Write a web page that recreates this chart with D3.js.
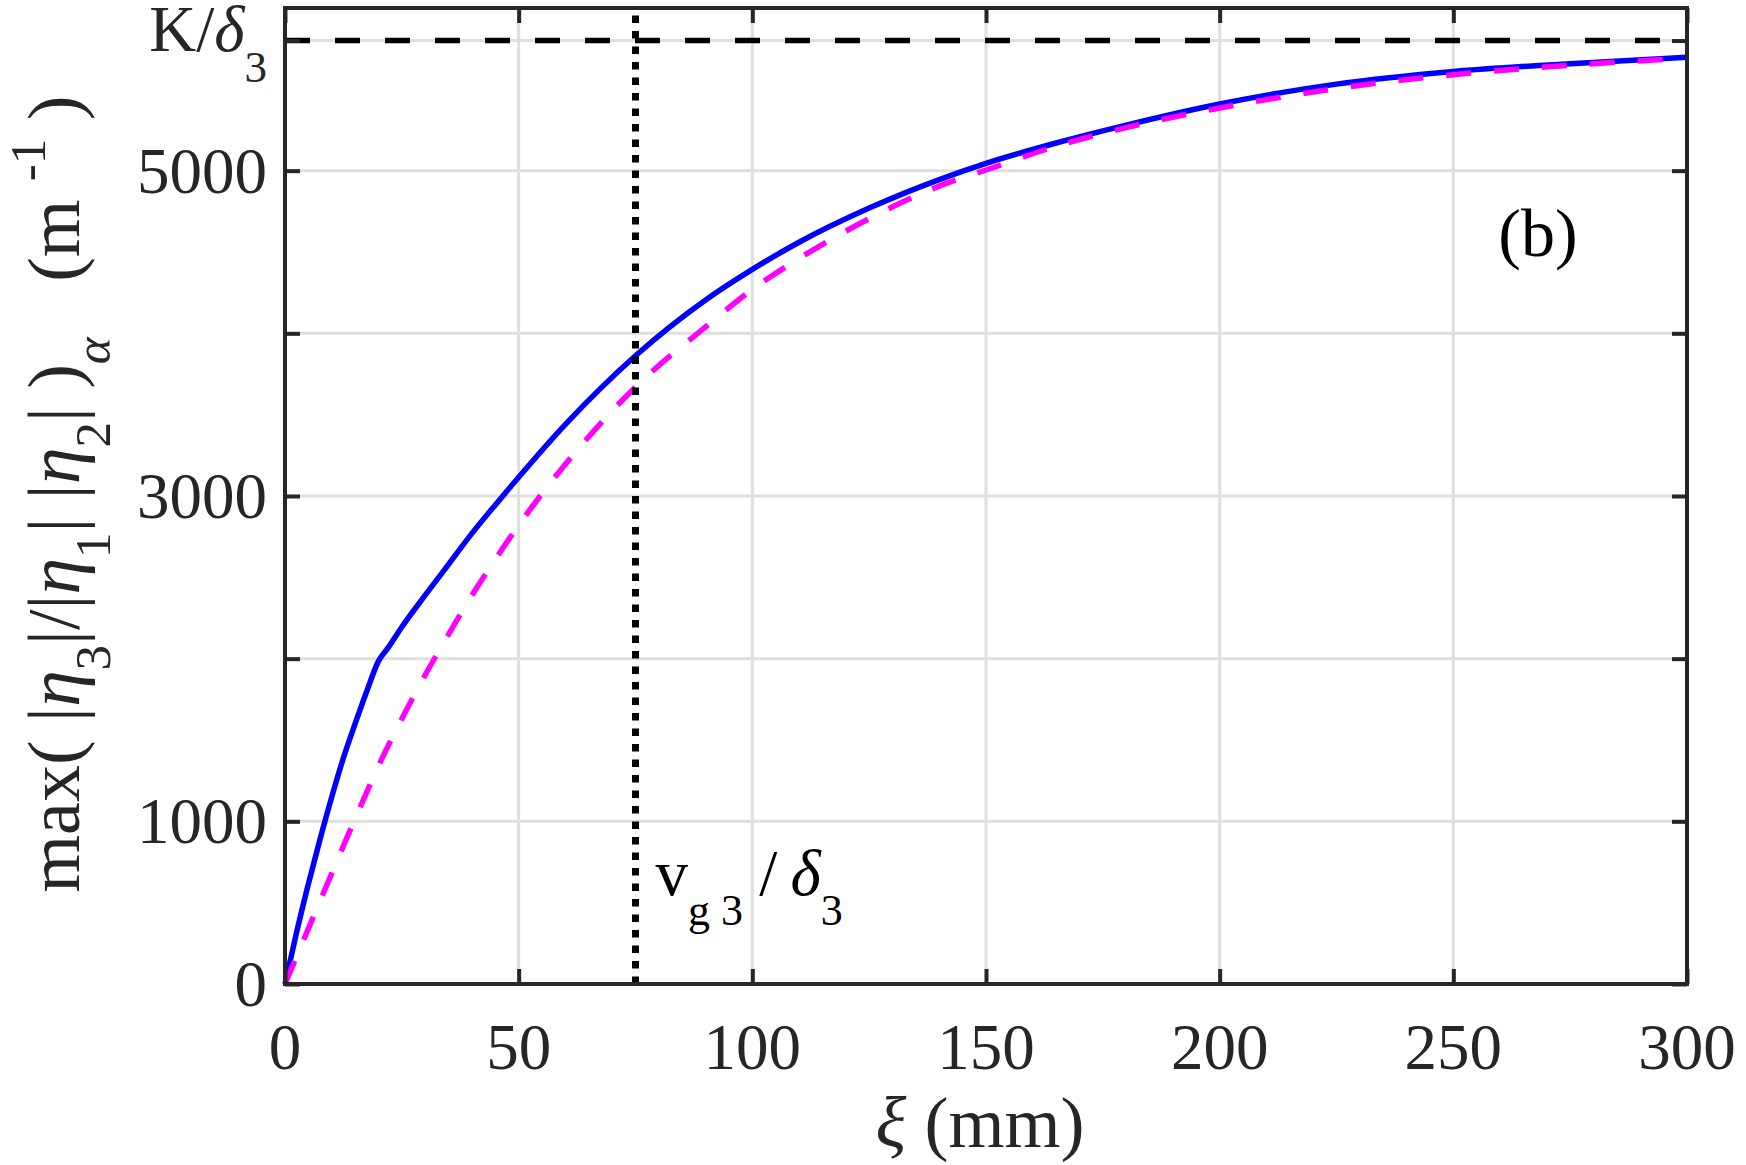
<!DOCTYPE html>
<html><head><meta charset="utf-8">
<script src="https://cdn.jsdelivr.net/npm/d3@7"></script>
<style>
body{margin:0;background:#fff}
svg{display:block}
text{font-family:"Liberation Serif","Times New Roman",serif;white-space:pre}
</style>
</head><body><svg id="c" width="1746" height="1165"></svg>
<script>
// ---- data ----
const xi = [0, 2.5, 5, 7.5, 10, 12.5, 15, 17.5, 20, 22, 25, 30, 35, 40, 45, 50, 60, 75, 90, 100, 110, 125, 140, 150, 165, 180, 200, 225, 250, 275, 300];
const blueVals = [0, 320, 615, 890, 1150, 1390, 1600, 1800, 1985, 2065, 2195, 2390, 2580, 2770, 2945, 3115, 3440, 3862, 4205, 4393, 4560, 4770, 4945, 5045, 5170, 5280, 5410, 5532, 5610, 5658, 5697];
const magentaVals = [0, 170, 340, 510, 680, 850, 1015, 1180, 1340, 1460, 1630, 1900, 2150, 2390, 2610, 2820, 3195, 3670, 4040, 4270, 4460, 4705, 4905, 5004, 5150, 5265, 5385, 5505, 5590, 5648, 5692];
const xTicks = [0, 50, 100, 150, 200, 250, 300];
const xTickLabels = ["0", "50", "100", "150", "200", "250", "300"];
const yTicks = [0, 1000, 2000, 3000, 4000, 5000, 5800];
const yTickLabels = ["0", "1000", "", "3000", "", "5000", "K/δ3"];
const kLevel = 5800;      // K/δ3
const vgLine = 75;        // v_g3/δ3

// ---- layout ----
const W = 1746, H = 1165;
const m = {left: 285, right: 59, top: 8, bottom: 181};
const pw = W - m.left - m.right, ph = H - m.top - m.bottom;
const axisCol = "#262626";

const svg = d3.select("#c");
const g = svg.append("g").attr("transform", `translate(${m.left},${m.top})`);

const x = d3.scaleLinear().domain([0, 300]).range([0, pw]);
const y = d3.scaleLinear().domain([0, 6000]).range([ph, 0]);

// grid
g.append("g").selectAll("line").data(xTicks.slice(1, -1)).join("line")
  .attr("x1", d => x(d)).attr("x2", d => x(d)).attr("y1", 0).attr("y2", ph)
  .attr("stroke", "#dfdfdf").attr("stroke-width", 3);
g.append("g").selectAll("line").data(yTicks.slice(1)).join("line")
  .attr("y1", d => y(d)).attr("y2", d => y(d)).attr("x1", 0).attr("x2", pw)
  .attr("stroke", "#dfdfdf").attr("stroke-width", 3);

// curves
const pts = vals => xi.map((v, i) => [v, vals[i]]);
const line = d3.line().x(d => x(d[0])).y(d => y(d[1])).curve(d3.curveMonotoneX);
g.append("path").attr("d", line(pts(blueVals))).attr("fill", "none")
  .attr("stroke", "#0000ff").attr("stroke-width", 5.5).attr("stroke-linejoin", "round");
g.append("path").attr("d", line(pts(magentaVals))).attr("fill", "none")
  .attr("stroke", "#ff00ff").attr("stroke-width", 5.5).attr("stroke-dasharray", "25,23");

// reference lines
g.append("line").attr("x1", 0).attr("x2", pw).attr("y1", y(kLevel)).attr("y2", y(kLevel))
  .attr("stroke", "#000").attr("stroke-width", 5.5).attr("stroke-dasharray", "25,25");
g.append("line").attr("x1", x(vgLine)).attr("x2", x(vgLine)).attr("y1", ph).attr("y2", 0)
  .attr("stroke", "#000").attr("stroke-width", 7).attr("stroke-dasharray", "7.5,8");

// axes (ticks inside, box)
const tickLen = 15;
const axB = d3.axisBottom(x).tickValues(xTicks).tickSize(-tickLen).tickFormat("");
const axT = d3.axisTop(x).tickValues(xTicks).tickSize(-tickLen).tickFormat("");
const axL = d3.axisLeft(y).tickValues(yTicks).tickSize(-tickLen).tickFormat("");
const axR = d3.axisRight(y).tickValues(yTicks).tickSize(-tickLen).tickFormat("");
[[axB, `translate(0,${ph})`], [axT, "translate(0,0)"], [axL, "translate(0,0)"], [axR, `translate(${pw},0)`]]
  .forEach(([ax, tr]) => {
    const a = g.append("g").attr("transform", tr).call(ax);
    a.select(".domain").remove();
    a.selectAll(".tick line").attr("stroke", axisCol).attr("stroke-width", 4);
  });
g.append("rect").attr("x", 0).attr("y", 0).attr("width", pw).attr("height", ph)
  .attr("fill", "none").attr("stroke", axisCol).attr("stroke-width", 4);

// tick labels
const fs = 65;
g.append("g").selectAll("text").data(xTicks).join("text")
  .attr("x", d => x(d)).attr("y", ph + 85).attr("text-anchor", "middle")
  .attr("font-size", fs).attr("fill", axisCol).text((d, i) => xTickLabels[i]);
yTicks.forEach((t, i) => {
  const lab = yTickLabels[i];
  if (!lab) return;
  const tx = g.append("text").attr("x", -18).attr("y", y(t) + 22).attr("text-anchor", "end")
    .attr("font-size", fs).attr("fill", axisCol);
  if (lab === "K/δ3") {
    tx.attr("y", y(t) + 10);
    tx.append("tspan").text("K/");
    tx.append("tspan").attr("font-style", "italic").text("δ");
    tx.append("tspan").attr("font-size", 45).attr("dy", 31).text("3");
  } else {
    tx.text(lab);
  }
});

// y label
const yl = svg.append("text").attr("transform", `translate(79,${m.top + ph / 2 - 2}) rotate(-90)`)
  .attr("text-anchor", "middle").attr("font-size", 74).attr("fill", axisCol);
const sub = 51, sd = 31;
const parts = [
  ["max( |"], ["η", "i"], ["3", "sub"], ["|/|"], ["η", "i"], ["1", "sub"], ["| |"], ["η", "i"], ["2", "sub"],
  ["| )"], ["α", "isub"], ["   (m "], ["-1", "sup"], [" )"]
];
let cur = 0;
parts.forEach(([t, k]) => {
  const ts = yl.append("tspan").text(t);
  let target = 0;
  if (k === "i") ts.attr("font-style", "italic");
  if (k === "sub") { ts.attr("font-size", sub); target = sd; }
  if (k === "isub") { ts.attr("font-size", sub).attr("font-style", "italic"); target = sd; }
  if (k === "sup") { ts.attr("font-size", sub); target = -34; }
  if (target !== cur) { ts.attr("dy", target - cur); cur = target; }
});

// x label
const xl = svg.append("text").attr("x", 980).attr("y", 1147).attr("text-anchor", "middle")
  .attr("font-size", 72).attr("fill", axisCol);
xl.append("tspan").attr("font-style", "italic").text("ξ");
xl.append("tspan").text(" (mm)");

// (b)
g.append("text").attr("x", 1538 - m.left).attr("y", 256 - m.top).attr("text-anchor", "middle")
  .attr("font-size", 68).attr("fill", "#000").text("(b)");

// annotation v_g3 / δ3
const an = g.append("text").attr("x", x(vgLine) + 20).attr("y", 895 - m.top)
  .attr("font-size", fs).attr("fill", "#000");
an.append("tspan").text("v");
an.append("tspan").attr("font-size", 44).attr("dy", 30).text("g 3");
an.append("tspan").attr("dy", -30).text(" / ");
an.append("tspan").attr("dx", -3).attr("font-style", "italic").text("δ");
an.append("tspan").attr("font-size", 44).attr("dy", 30).text("3");
</script>
</body></html>
